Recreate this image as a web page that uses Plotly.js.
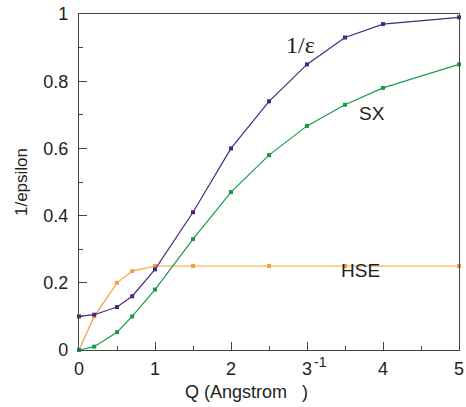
<!DOCTYPE html>
<html>
<head>
<meta charset="utf-8">
<script src="https://cdn.plot.ly/plotly-3.0.1.min.js"></script>
<style>
  html, body { margin: 0; padding: 0; background: #fff; }
  #chart { width: 466px; height: 407px; }
</style>
</head>
<body>
<div id="chart"></div>
<script>
// Momentum transfer Q (1/Angstrom) sample points
const qInv = [0, 0.2, 0.5, 0.7, 1, 1.5, 2, 2.5, 3, 3.5, 4, 5];
const invEps = [0.1, 0.105, 0.128, 0.16, 0.24, 0.41, 0.6, 0.74, 0.85, 0.93, 0.97, 0.99];
const sx = [0, 0.01, 0.053, 0.1, 0.18, 0.33, 0.47, 0.58, 0.667, 0.73, 0.78, 0.85];

// HSE screening sampled on its own grid
const qHse = [0, 0.2, 0.5, 0.7, 1, 1.5, 2.5, 3.5, 5];
const hse = [0, 0.1, 0.2, 0.235, 0.25, 0.25, 0.25, 0.25, 0.25];

const xTicks = [0, 1, 2, 3, 4, 5];
const yTicks = [0, 0.2, 0.4, 0.6, 0.8, 1];

const purple = '#4a2780';
const green = '#1a9a48';
const orange = '#f5a13a';

function series(x, y, color) {
  return {
    x: x, y: y, type: 'scatter', mode: 'lines+markers',
    line: { color: color, width: 1.2 },
    marker: { color: color, size: 4, symbol: 'square' },
    hoverinfo: 'skip', cliponaxis: false
  };
}

const traces = [
  series(qHse, hse, orange),
  series(qInv, sx, green),
  series(qInv, invEps, purple)
];

const sans = 'Liberation Sans, Arial, sans-serif';
const axisFont = { family: sans, size: 18, color: '#222' };

const layout = {
  width: 466, height: 407,
  margin: { l: 79, r: 7, t: 14, b: 57 },
  paper_bgcolor: '#fff', plot_bgcolor: '#fff',
  showlegend: false,
  xaxis: {
    range: [0, 5], tickvals: xTicks, ticktext: xTicks.map(String),
    ticks: 'inside', ticklen: 8, tickwidth: 1, tickcolor: '#444',
    minor: { dtick: 0.5, ticks: 'inside', ticklen: 4, tickwidth: 1, tickcolor: '#444' },
    showline: true, linecolor: '#444', linewidth: 1.2, mirror: true,
    showgrid: false, zeroline: false,
    tickfont: axisFont, ticklabelstandoff: 2
  },
  yaxis: {
    range: [0, 1], tickvals: yTicks, ticktext: ['0', '0.2', '0.4', '0.6', '0.8', '1'],
    ticks: 'inside', ticklen: 8, tickwidth: 1, tickcolor: '#444',
    minor: { dtick: 0.1, ticks: 'inside', ticklen: 4, tickwidth: 1, tickcolor: '#444' },
    showline: true, linecolor: '#444', linewidth: 1.2, mirror: true,
    showgrid: false, zeroline: false,
    tickfont: axisFont, ticklabelstandoff: 6,
    title: { text: '1/epsilon', font: { family: sans, size: 17, color: '#222' }, standoff: 11 }
  },
  annotations: [
    { x: 2.92, y: 0.908, xref: 'x', yref: 'y', text: '1/ε', showarrow: false,
      font: { family: 'Liberation Serif, Times New Roman, serif', size: 24, color: '#222' } },
    { x: 3.855, y: 0.705, xref: 'x', yref: 'y', text: 'SX', showarrow: false,
      font: { family: sans, size: 19, color: '#222' } },
    { x: 3.71, y: 0.238, xref: 'x', yref: 'y', text: 'HSE', showarrow: false,
      font: { family: sans, size: 19, color: '#222' } },
    { x: 0.44, y: -0.125, xref: 'paper', yref: 'paper', xanchor: 'center', yanchor: 'middle',
      text: 'Q (Angstrom   )', showarrow: false,
      font: { family: sans, size: 18, color: '#222' } },
    // unit exponent for the Q axis, sitting beside the "3" label
    { x: 0.635, y: -0.036, xref: 'paper', yref: 'paper', xanchor: 'center', yanchor: 'middle',
      text: '-1', showarrow: false,
      font: { family: sans, size: 14, color: '#222' } }
  ]
};

Plotly.newPlot('chart', traces, layout, { displayModeBar: false, staticPlot: true });
</script>
</body>
</html>
